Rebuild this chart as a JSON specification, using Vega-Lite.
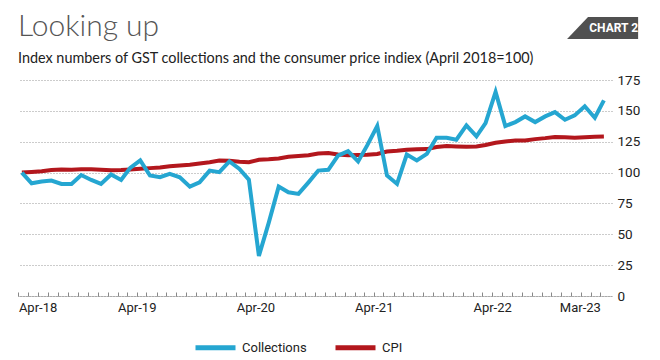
{
  "$schema": "https://vega.github.io/schema/vega-lite/v6.json",
  "width": 594,
  "height": 216,
  "autosize": "none",
  "padding": {"left": 18, "top": 80, "right": 48, "bottom": 64},
  "background": "white",
  "title": {
    "text": "Looking up",
    "subtitle": "Index numbers of GST collections and the consumer price indiex (April 2018=100)",
    "anchor": "start",
    "frame": "group",
    "font": "Lato",
    "fontSize": 30,
    "fontWeight": 300,
    "color": "#555555",
    "subtitleFont": "Lato",
    "subtitleFontSize": 14.4,
    "subtitleColor": "#222222",
    "subtitlePadding": 10,
    "offset": -48
  },
  "config": {
    "view": {"stroke": null},
    "font": "Roboto",
    "axisX": {
      "title": null,
      "grid": false,
      "labelFlush": 12,
      "labelOverlap": false,
      "labelFont": "Roboto",
      "labelFontSize": 13,
      "labelColor": "#222222",
      "labelPadding": 9,
      "tickSize": -4,
      "tickColor": "#888888",
      "tickOffset": -3.5,
      "domainColor": "#888888",
      "domainDash": [1, 1]
    },
    "axisY": {
      "title": null,
      "labelOverlap": false,
      "domain": false,
      "ticks": false,
      "grid": true,
      "gridColor": "#999999",
      "gridDash": [1, 2],
      "gridWidth": 1,
      "labelFont": "Roboto",
      "labelFontSize": 13.5,
      "labelColor": "#222222",
      "labelPadding": 5
    }
  },
  "layer": [
    {
      "data": {
        "values": [
          {"date": "2018-04-01", "Collections": 100.0, "CPI": 100.0},
          {"date": "2018-05-01", "Collections": 91.3, "CPI": 100.5},
          {"date": "2018-06-01", "Collections": 92.7, "CPI": 101.0},
          {"date": "2018-07-01", "Collections": 93.5, "CPI": 102.0},
          {"date": "2018-08-01", "Collections": 90.8, "CPI": 102.4},
          {"date": "2018-09-01", "Collections": 90.8, "CPI": 102.3},
          {"date": "2018-10-01", "Collections": 98.0, "CPI": 102.6},
          {"date": "2018-11-01", "Collections": 94.0, "CPI": 102.7},
          {"date": "2018-12-01", "Collections": 90.8, "CPI": 102.2},
          {"date": "2019-01-01", "Collections": 98.4, "CPI": 101.8},
          {"date": "2019-02-01", "Collections": 94.0, "CPI": 102.0},
          {"date": "2019-03-01", "Collections": 103.8, "CPI": 102.4},
          {"date": "2019-04-01", "Collections": 109.8, "CPI": 103.0},
          {"date": "2019-05-01", "Collections": 97.6, "CPI": 103.6},
          {"date": "2019-06-01", "Collections": 96.2, "CPI": 104.2},
          {"date": "2019-07-01", "Collections": 98.9, "CPI": 105.2},
          {"date": "2019-08-01", "Collections": 96.2, "CPI": 105.8},
          {"date": "2019-09-01", "Collections": 88.6, "CPI": 106.3},
          {"date": "2019-10-01", "Collections": 92.1, "CPI": 107.4},
          {"date": "2019-11-01", "Collections": 101.6, "CPI": 108.4},
          {"date": "2019-12-01", "Collections": 100.3, "CPI": 109.7},
          {"date": "2020-01-01", "Collections": 109.0, "CPI": 109.6},
          {"date": "2020-02-01", "Collections": 103.0, "CPI": 108.8},
          {"date": "2020-03-01", "Collections": 94.3, "CPI": 108.4},
          {"date": "2020-04-01", "Collections": 32.5, "CPI": 110.4},
          {"date": "2020-05-01", "Collections": 59.0, "CPI": 110.7},
          {"date": "2020-06-01", "Collections": 88.6, "CPI": 111.4},
          {"date": "2020-07-01", "Collections": 84.0, "CPI": 112.8},
          {"date": "2020-08-01", "Collections": 82.7, "CPI": 113.5},
          {"date": "2020-09-01", "Collections": 92.1, "CPI": 114.1},
          {"date": "2020-10-01", "Collections": 101.6, "CPI": 115.5},
          {"date": "2020-11-01", "Collections": 102.2, "CPI": 115.9},
          {"date": "2020-12-01", "Collections": 113.8, "CPI": 114.7},
          {"date": "2021-01-01", "Collections": 117.3, "CPI": 114.0},
          {"date": "2021-02-01", "Collections": 109.0, "CPI": 114.2},
          {"date": "2021-03-01", "Collections": 122.0, "CPI": 114.4},
          {"date": "2021-04-01", "Collections": 137.7, "CPI": 115.1},
          {"date": "2021-05-01", "Collections": 97.6, "CPI": 117.0},
          {"date": "2021-06-01", "Collections": 90.8, "CPI": 117.6},
          {"date": "2021-07-01", "Collections": 114.6, "CPI": 118.5},
          {"date": "2021-08-01", "Collections": 109.8, "CPI": 118.8},
          {"date": "2021-09-01", "Collections": 115.2, "CPI": 119.0},
          {"date": "2021-10-01", "Collections": 128.2, "CPI": 120.7},
          {"date": "2021-11-01", "Collections": 128.2, "CPI": 121.6},
          {"date": "2021-12-01", "Collections": 126.6, "CPI": 121.2},
          {"date": "2022-01-01", "Collections": 138.2, "CPI": 120.9},
          {"date": "2022-02-01", "Collections": 129.3, "CPI": 121.2},
          {"date": "2022-03-01", "Collections": 140.1, "CPI": 122.3},
          {"date": "2022-04-01", "Collections": 165.3, "CPI": 124.1},
          {"date": "2022-05-01", "Collections": 137.7, "CPI": 125.2},
          {"date": "2022-06-01", "Collections": 140.9, "CPI": 125.9},
          {"date": "2022-07-01", "Collections": 145.5, "CPI": 125.9},
          {"date": "2022-08-01", "Collections": 140.9, "CPI": 127.1},
          {"date": "2022-09-01", "Collections": 145.5, "CPI": 127.9},
          {"date": "2022-10-01", "Collections": 149.0, "CPI": 128.9},
          {"date": "2022-11-01", "Collections": 142.8, "CPI": 128.7},
          {"date": "2022-12-01", "Collections": 146.3, "CPI": 128.2},
          {"date": "2023-01-01", "Collections": 153.7, "CPI": 128.7},
          {"date": "2023-02-01", "Collections": 144.4, "CPI": 129.0},
          {"date": "2023-03-01", "Collections": 158.5, "CPI": 129.2}
        ]
      },
      "transform": [{"fold": ["CPI", "Collections"], "as": ["series", "value"]}],
      "mark": {"type": "line", "strokeWidth": 4},
      "encoding": {
        "x": {
          "field": "date",
          "type": "temporal",
          "scale": {
            "type": "utc",
            "domain": [1521504000000, 1679788800000],
            "nice": false
          },
          "axis": {
            "tickCount": {"interval": "month", "step": 1},
            "labelExpr": "(utcmonth(datum.value) == 3 || (utcyear(datum.value) == 2023 && utcmonth(datum.value) == 2)) ? utcFormat(datum.value, '%b-%y') : ''"
          }
        },
        "y": {
          "field": "value",
          "type": "quantitative",
          "scale": {"domain": [0, 175], "nice": false},
          "axis": {
            "orient": "right",
            "values": [0, 25, 50, 75, 100, 125, 150, 175]
          }
        },
        "color": {
          "field": "series",
          "type": "nominal",
          "scale": {"domain": ["Collections", "CPI"], "range": ["#25a6d1", "#b3171d"]},
          "legend": {
            "title": null,
            "orient": "none",
            "direction": "horizontal",
            "legendX": 175,
            "legendY": 245,
            "symbolType": "stroke",
            "symbolSize": 1600,
            "symbolStrokeWidth": 5,
            "labelFont": "Roboto",
            "labelFontSize": 13,
            "labelColor": "#222222",
            "labelOffset": 4,
            "columnPadding": 18
          }
        }
      }
    },
    {
      "data": {"values": [{}]},
      "mark": {
        "type": "point",
        "shape": "M -0.41 -0.31 L 1 -0.31 L 1 0.31 L -1 0.31 Z",
        "filled": true,
        "opacity": 1,
        "color": "#505050",
        "size": 5041,
        "clip": false
      },
      "encoding": {
        "x": {
          "datum": 1677283200000,
          "type": "temporal",
          "axis": {
            "tickCount": {"interval": "month", "step": 1},
            "labelExpr": "(utcmonth(datum.value) == 3 || (utcyear(datum.value) == 2023 && utcmonth(datum.value) == 2)) ? utcFormat(datum.value, '%b-%y') : ''"
          }
        },
        "y": {
          "datum": 217.1,
          "type": "quantitative",
          "axis": {
            "orient": "right",
            "values": [0, 25, 50, 75, 100, 125, 150, 175]
          }
        }
      }
    },
    {
      "data": {"values": [{}]},
      "mark": {
        "type": "text",
        "text": "CHART 2",
        "font": "Roboto",
        "fontWeight": "bold",
        "fontSize": 12,
        "color": "white",
        "align": "center",
        "baseline": "middle",
        "clip": false
      },
      "encoding": {
        "x": {
          "datum": 1680220800000,
          "type": "temporal",
          "axis": {
            "tickCount": {"interval": "month", "step": 1},
            "labelExpr": "(utcmonth(datum.value) == 3 || (utcyear(datum.value) == 2023 && utcmonth(datum.value) == 2)) ? utcFormat(datum.value, '%b-%y') : ''"
          }
        },
        "y": {
          "datum": 217.1,
          "type": "quantitative",
          "axis": {
            "orient": "right",
            "values": [0, 25, 50, 75, 100, 125, 150, 175]
          }
        }
      }
    }
  ]
}
